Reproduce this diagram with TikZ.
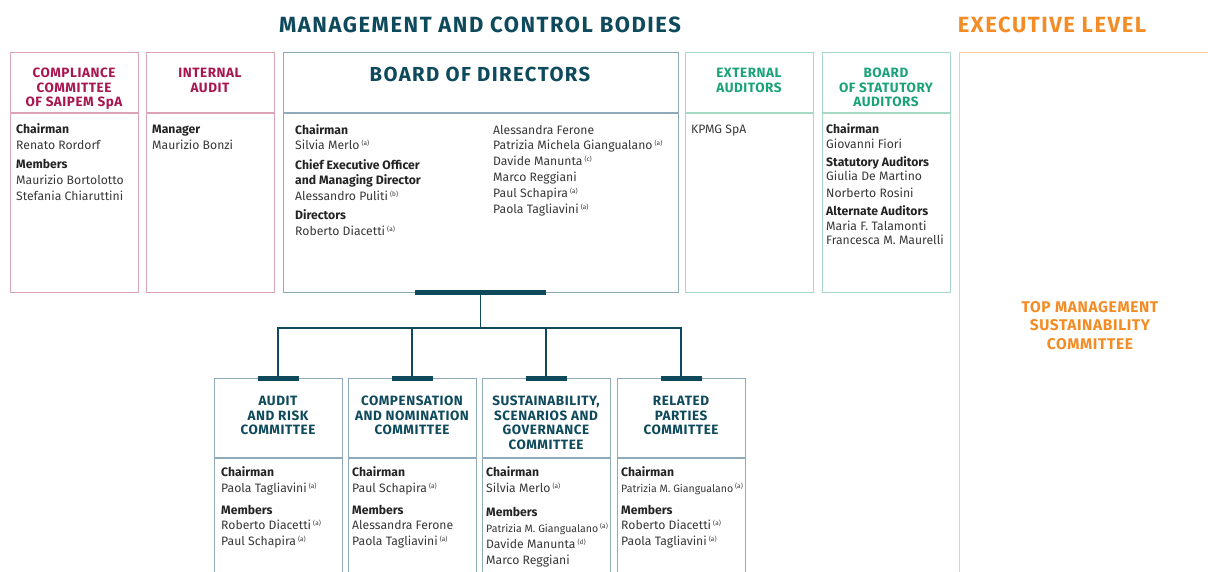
\documentclass[tikz,border=0pt]{standalone}
\usepackage{fontspec}
\setmainfont{Fira Sans}
\newfontfamily\hfont[LetterSpace=4]{Fira Sans}
\newfontfamily\bigfont[LetterSpace=7]{Fira Sans}
\definecolor{teal}{RGB}{14,74,92}
\definecolor{blueb}{RGB}{143,170,186}
\definecolor{crim}{RGB}{168,22,80}
\definecolor{pinkb}{RGB}{219,164,182}
\definecolor{grn}{RGB}{26,162,120}
\definecolor{grnb}{RGB}{166,218,196}
\definecolor{orn}{RGB}{243,140,36}
\definecolor{ornb}{RGB}{252,204,154}
\definecolor{bodygray}{RGB}{55,55,55}
\definecolor{headgray}{RGB}{35,35,35}
\newcommand{\sn}[1]{\,\raisebox{0.6ex}{\fontsize{6.5}{7}\selectfont(#1)}}
\newcommand{\hd}[1]{{\bfseries\color{headgray}#1}}
\begin{document}
\begin{tikzpicture}[x=1pt,y=-1pt,
  box/.style={draw=#1, line width=1.4pt, inner sep=0pt, anchor=north west, minimum height=240pt, minimum width=128pt},
  cbox/.style={draw=blueb, line width=1.4pt, inner sep=0pt, anchor=north west, minimum height=260pt, minimum width=128pt},
  sep/.style={line width=1.4pt},
  body/.style={anchor=base west, inner sep=0pt, font=\fontsize{12.2}{14}\selectfont, text=bodygray},
  small/.style={anchor=base west, inner sep=0pt, font=\fontsize{10.6}{12}\selectfont, text=bodygray},
  ttl/.style={anchor=north, inner sep=0pt, align=center, font=\hfont\bfseries\fontsize{13.5}{14.6}\selectfont},
  bigttl/.style={anchor=north, inner sep=0pt, align=center, font=\bigfont\bfseries\fontsize{22}{24}\selectfont},
  bar/.style={fill=teal, inner sep=0pt, minimum height=5.5pt},
  conn/.style={draw=teal, line width=1.5pt}
]
\useasboundingbox (0,0) rectangle (1208,571);
\clip (0,0) rectangle (1208,571);
\coordinate (sepT) at (0,113);
\coordinate (sepC) at (0,458);

% headings
\node[bigttl, text=teal] (mgmt) at (480,17) {MANAGEMENT AND CONTROL BODIES};
\node[bigttl, text=orn] (exec) at (1052,17) {EXECUTIVE LEVEL};

% top boxes
\node[box=pinkb] (cc) at (10,52) {};
\node[box=pinkb] (ia) at (146,52) {};
\node[box=blueb, minimum width=395pt] (bd) at (283,52) {};
\node[box=grnb] (ea) at (685,52) {};
\node[box=grnb] (sa) at (822,52) {};
\node[draw=ornb, line width=1.4pt, inner sep=0pt, anchor=north west, minimum width=400pt, minimum height=600pt] (ex) at (959,52) {};

\draw[sep, pinkb] (cc.west |- sepT) -- (cc.east |- sepT);
\draw[sep, pinkb] (ia.west |- sepT) -- (ia.east |- sepT);
\draw[sep, blueb] (bd.west |- sepT) -- (bd.east |- sepT);
\draw[sep, grnb] (ea.west |- sepT) -- (ea.east |- sepT);
\draw[sep, grnb] (sa.west |- sepT) -- (sa.east |- sepT);

\node[ttl, text=crim] (cct) at (74,68) {COMPLIANCE\\COMMITTEE\\OF SAIPEM SpA};
\node[ttl, text=crim] (iat) at (210,68) {INTERNAL\\AUDIT};
\node[ttl, text=teal, font=\bigfont\bfseries\fontsize{20.3}{22}\selectfont] (bdt) at (480,67) {BOARD OF DIRECTORS};
\node[ttl, text=grn] (eat) at (749,68) {EXTERNAL\\AUDITORS};
\node[ttl, text=grn] (sat) at (886,68) {BOARD\\OF STATUTORY\\AUDITORS};
\node[ttl, text=orn, font=\hfont\bfseries\fontsize{15.5}{18.6}\selectfont] (tmt) at (1090,301) {TOP MANAGEMENT\\SUSTAINABILITY\\COMMITTEE};

% top box contents
\foreach \y/\t [count=\i] in {133/\hd{Chairman}, 149/Renato Rordorf, 168/\hd{Members}, 184/Maurizio Bortolotto, 200/Stefania Chiaruttini}
  \node[body] (cc-\i) at (16,\y) {\t};
\foreach \y/\t [count=\i] in {133/\hd{Manager}, 149/Maurizio Bonzi}
  \node[body] (ia-\i) at (152,\y) {\t};
\foreach \y/\t [count=\i] in {134/\hd{Chairman}, 149/{Silvia Merlo\sn{a}}, 169/\hd{Chief Executive Officer}, 184/\hd{and Managing Director}, 200/{Alessandro Puliti\sn{b}}, 219/\hd{Directors}, 235/{Roberto Diacetti\sn{a}}}
  \node[body] (bl-\i) at (295,\y) {\t};
\foreach \y/\t [count=\i] in {134/Alessandra Ferone, 149/{Patrizia Michela Giangualano\sn{a}}, 165/{Davide Manunta\sn{c}}, 181/Marco Reggiani, 197/{Paul Schapira\sn{a}}, 213/{Paola Tagliavini\sn{a}}}
  \node[body] (br-\i) at (493,\y) {\t};
\node[body] (ea-1) at (691,133) {KPMG SpA};
\foreach \y/\t [count=\i] in {133/\hd{Chairman}, 148/Giovanni Fiori, 166/\hd{Statutory Auditors}, 180/Giulia De Martino, 197/Norberto Rosini, 215/\hd{Alternate Auditors}, 230/Maria F. Talamonti, 244/Francesca M. Maurelli}
  \node[body] (sa-\i) at (826,\y) {\t};

% committees
\node[cbox] (ca) at (214,378) {};
\node[cbox] (cb) at (348,378) {};
\node[cbox] (cs) at (482,378) {};
\node[cbox] (cr) at (617,378) {};
\foreach \n in {ca,cb,cs,cr}
  \draw[sep, blueb] (\n.west |- sepC) -- (\n.east |- sepC);

\node[ttl, text=teal] (cat) at (278,396) {AUDIT\\AND RISK\\COMMITTEE};
\node[ttl, text=teal] (cbt) at (412,396) {COMPENSATION\\AND NOMINATION\\COMMITTEE};
\node[ttl, text=teal] (cst) at (546,396) {SUSTAINABILITY,\\SCENARIOS AND\\GOVERNANCE\\COMMITTEE};
\node[ttl, text=teal] (crt) at (681,396) {RELATED\\PARTIES\\COMMITTEE};

\foreach \y/\t [count=\i] in {476/\hd{Chairman}, 492/{Paola Tagliavini\sn{a}}, 514/\hd{Members}, 529/{Roberto Diacetti\sn{a}}, 545/{Paul Schapira\sn{a}}}
  \node[body] (ca-\i) at (221,\y) {\t};
\foreach \y/\t [count=\i] in {476/\hd{Chairman}, 492/{Paul Schapira\sn{a}}, 514/\hd{Members}, 529/Alessandra Ferone, 545/{Paola Tagliavini\sn{a}}}
  \node[body] (cb-\i) at (352,\y) {\t};
\foreach \y/\t [count=\i] in {476/\hd{Chairman}, 492/{Silvia Merlo\sn{a}}, 516/\hd{Members}, 548/{Davide Manunta\sn{d}}, 564/Marco Reggiani}
  \node[body] (cs-\i) at (486,\y) {\t};
\node[small] (cs-p) at (486,532) {Patrizia M. Giangualano\sn{a}};
\foreach \y/\t [count=\i] in {476/\hd{Chairman}, 514/\hd{Members}, 529/{Roberto Diacetti\sn{a}}, 545/{Paola Tagliavini\sn{a}}}
  \node[body] (cr-\i) at (621,\y) {\t};
\node[small] (cr-p) at (621,492) {Patrizia M. Giangualano\sn{a}};

% bars and connectors
\coordinate (hub) at (480.5,328);
\node[bar, minimum width=131pt] (bdbar) at (480.5,292.5) {};
\node[bar, minimum width=41pt] (bara) at (278,378.5) {};
\node[bar, minimum width=41pt] (barb) at (412,378.5) {};
\node[bar, minimum width=41pt] (bars) at (546,378.5) {};
\node[bar, minimum width=41pt] (barr) at (681,378.5) {};
\draw[conn] (bdbar.south) -- (hub);
\draw[conn] (bara.north) |- (hub) -| (barr.north);
\draw[conn] (barb.north) -- (barb.north |- hub);
\draw[conn] (bars.north) -- (bars.north |- hub);
\end{tikzpicture}
\end{document}
